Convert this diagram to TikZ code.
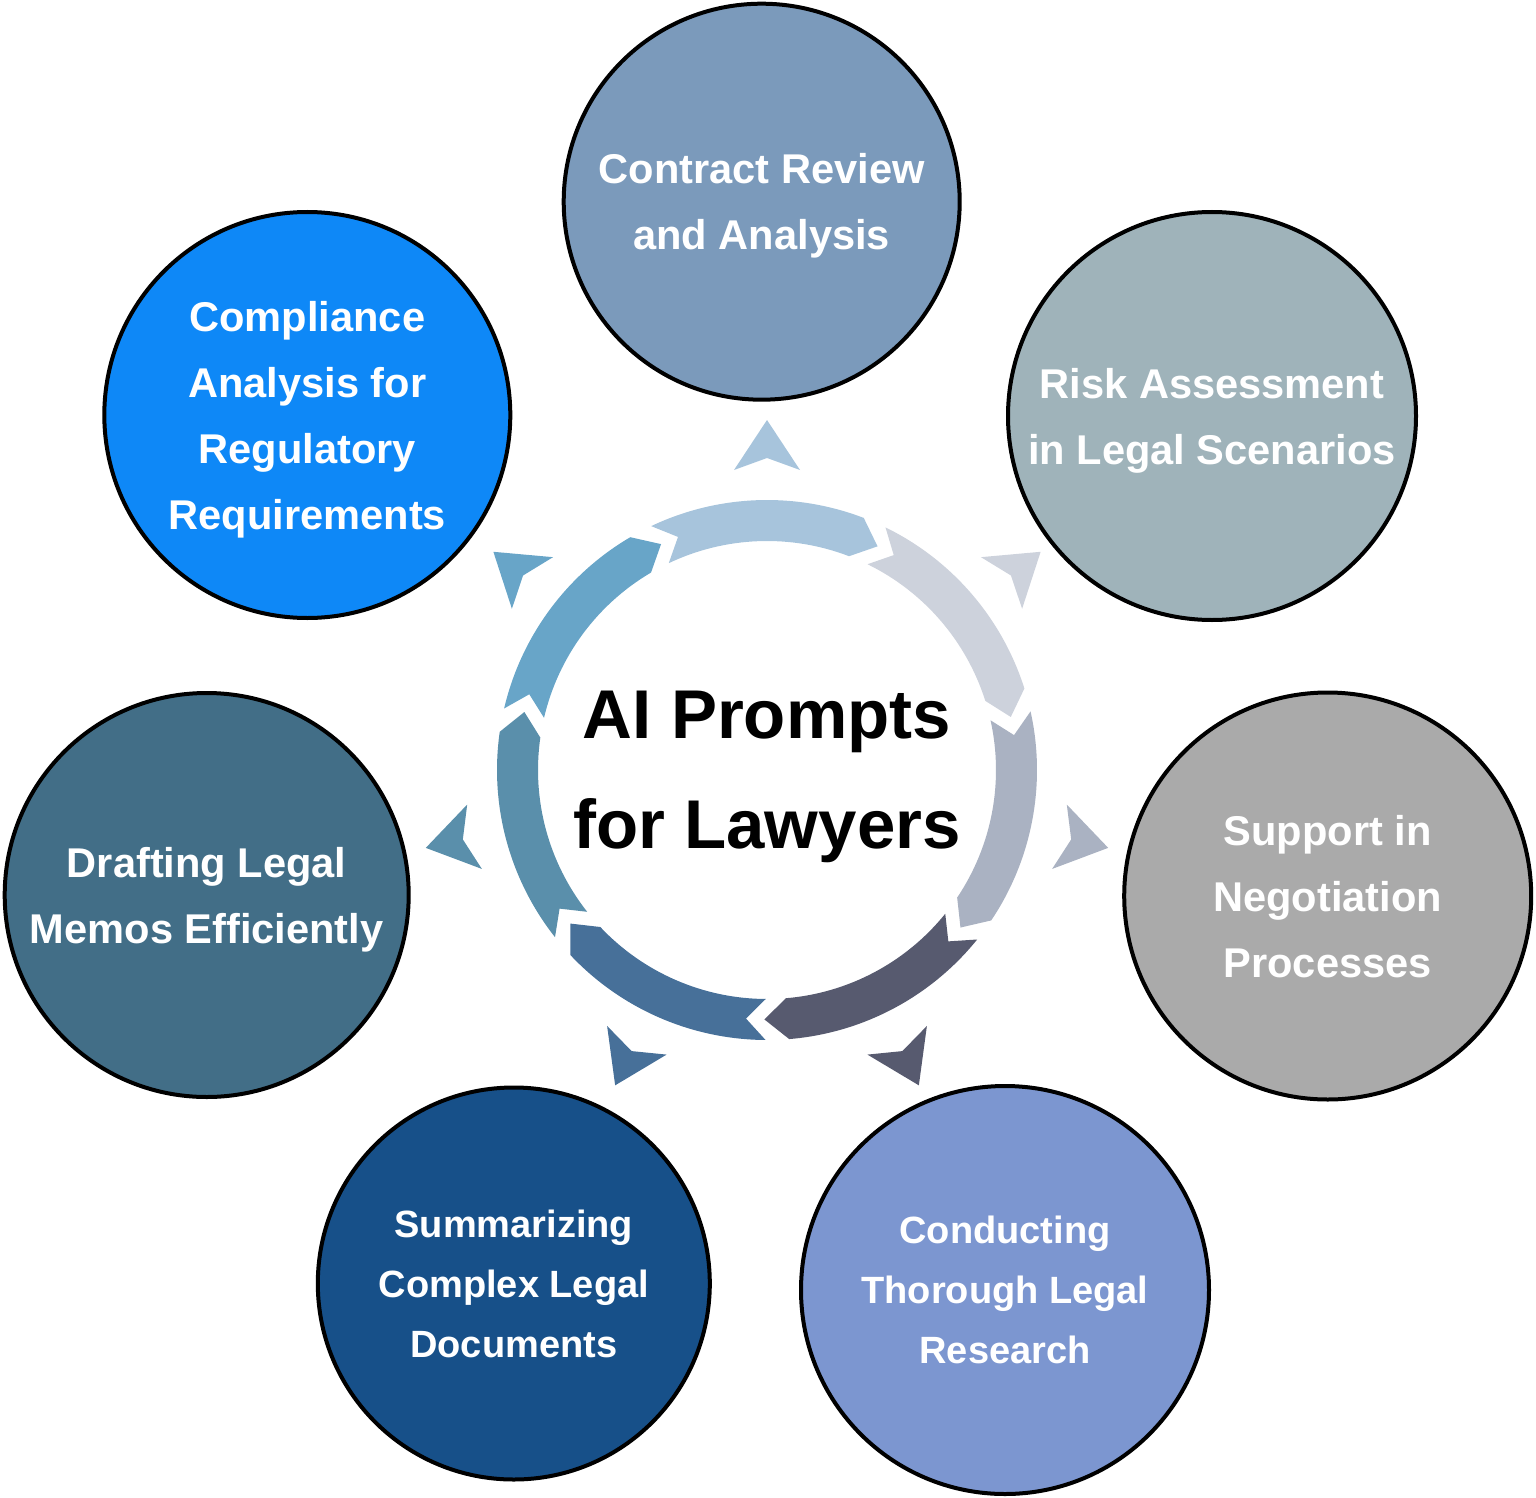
\documentclass[tikz,border=0pt]{standalone}
\usepackage{fontspec}
\setmainfont{Liberation Sans}
\definecolor{s0}{HTML}{A7C4DC}
\definecolor{s1}{HTML}{CDD2DC}
\definecolor{s2}{HTML}{AAB2C2}
\definecolor{s3}{HTML}{575A6F}
\definecolor{s4}{HTML}{477099}
\definecolor{s5}{HTML}{5A8FAB}
\definecolor{s6}{HTML}{68A5C8}
\definecolor{k0}{HTML}{7B9ABB}
\definecolor{k1}{HTML}{9FB3BA}
\definecolor{k2}{HTML}{AAAAAA}
\definecolor{k3}{HTML}{7C96D0}
\definecolor{k4}{HTML}{175089}
\definecolor{k5}{HTML}{426E87}
\definecolor{k6}{HTML}{0E88F7}
\begin{document}
\begin{tikzpicture}[x=0.5pt,y=-0.5pt,
  bub/.style={circle, draw=black, line width=2pt, inner sep=0pt, text=white, align=center,
    text depth=0pt, font=\bfseries\fontsize{20.8}{33}\selectfont},
  bubsmall/.style={bub, font=\bfseries\fontsize{19}{30}\selectfont},
  title/.style={align=center, text=black, text depth=0pt, font=\bfseries\fontsize{34.5}{55}\selectfont}]
\useasboundingbox (0,0) rectangle (1536,1498);

% ring segments and outward arrowheads
\begin{scope}[shift={(767,770)}, x=0.5pt, y=0.5pt]
\foreach \i/\col in {0/s0,1/s1,2/s2,3/s3,4/s4,5/s5,6/s6}{
  \pgfmathsetmacro{\t}{115.4-51.4286*\i}
  \pgfmathsetmacro{\h}{\t-46.4}
  \pgfmathsetmacro{\tp}{\h-5.3}
  \pgfmathsetmacro{\nt}{\t-4.5}
  \pgfmathsetmacro{\a}{90-51.4286*\i}
  \fill[\col] (\t:270) arc[start angle=\t, end angle=\h, radius=270]
     -- (\tp:249.5) -- (\h:229) arc[start angle=\h, end angle=\t, radius=229]
     -- (\nt:249.5) -- cycle;
  \fill[\col, rotate=\a] (350,0) -- (300,33) -- (312,0) -- (300,-33) -- cycle;
}
\end{scope}

\node[title] (center) at (767,770) {AI Prompts\\for Lawyers};

\node[bub, fill=k0, minimum size=198pt] (contract) at (761.7,201.7) {Contract Review\\and Analysis};
\node[bub, fill=k1, minimum size=204pt] (risk) at (1212,416) {Risk Assessment\\in Legal Scenarios};
\node[bub, fill=k2, minimum size=203.5pt] (support) at (1327.7,896) {Support in\\Negotiation\\Processes};
\node[bubsmall, fill=k3, minimum size=204pt] (research) at (1005,1290) {Conducting\\Thorough Legal\\Research};
\node[bubsmall, fill=k4, minimum size=196pt] (summ) at (513.8,1283.5) {Summarizing\\Complex Legal\\Documents};
\node[bub, fill=k5, minimum size=202pt] (draft) at (206.7,895) {Drafting Legal\\Memos Efficiently};
\node[bub, fill=k6, minimum size=203pt] (comp) at (307.3,415) {Compliance\\Analysis for\\Regulatory\\Requirements};
\end{tikzpicture}
\end{document}
